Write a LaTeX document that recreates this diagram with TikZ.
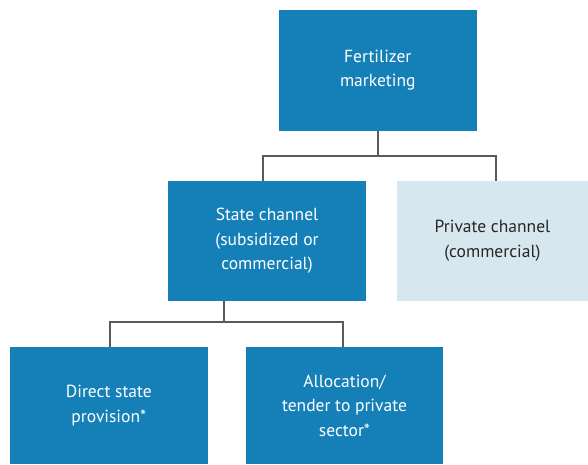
\documentclass[tikz,border=0pt]{standalone}
\usepackage{fontspec}
\setmainfont{PT Sans}
\definecolor{darkbox}{HTML}{1580B8}
\definecolor{lightbox}{HTML}{D7E7EF}
\definecolor{linegray}{HTML}{5A5A5A}
\usetikzlibrary{calc}
\begin{document}
\begin{tikzpicture}[x=1pt,y=-1pt,
  box/.style={rectangle, inner sep=0pt, align=center, font=\fontsize{17.5}{24.5}\selectfont},
  dbox/.style={box, fill=darkbox, text=white},
  lbox/.style={box, fill=lightbox, text=black!85},
  conn/.style={draw=linegray, line width=2pt}]
\useasboundingbox (0,0) rectangle (588,464);
\node[dbox, minimum width=197.5pt, minimum height=120.5pt] (top) at (377.75,70.25) {Fertilizer\\marketing};
\node[dbox, minimum width=198pt, minimum height=119.5pt] (state) at (267,240.75) {State channel\\(subsidized or\\commercial)};
\node[lbox, minimum width=191pt, minimum height=119.5pt] (priv) at (492.5,240.75) {Private channel\\(commercial)};
\node[dbox, minimum width=197.7pt, minimum height=117pt] (direct) at (108.85,405.5) {Direct state\\provision*};
\node[dbox, minimum width=197pt, minimum height=117pt] (alloc) at (344.5,405.5) {Allocation/\\tender to private\\sector*};
\draw[conn] (top.south) -- ++(0,25) coordinate (j1);
\draw[conn] ([xshift=95pt]state.north west) |- (j1) -| ([xshift=99pt]priv.north west);
\draw[conn] ([xshift=56pt]state.south west) -- ++(0,21.5) coordinate (j2);
\draw[conn] ([xshift=100pt]direct.north west) |- (j2) -| ([xshift=97pt]alloc.north west);
\end{tikzpicture}
\end{document}
